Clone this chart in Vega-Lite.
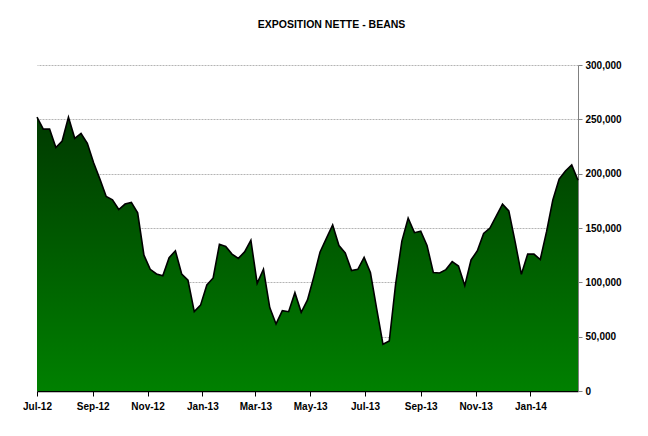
{
  "$schema": "https://vega.github.io/schema/vega-lite/v6.json",
  "width": 541,
  "height": 326,
  "autosize": {"type": "none"},
  "padding": {"left": 37, "top": 65, "right": 70, "bottom": 45},
  "background": "white",
  "title": {
    "text": "EXPOSITION NETTE - BEANS",
    "font": "Liberation Sans",
    "fontSize": 10.5,
    "fontWeight": "bold",
    "color": "black",
    "anchor": "middle",
    "dx": 24,
    "offset": 30
  },
  "config": {
    "view": {"stroke": null},
    "font": "Liberation Sans"
  },
  "data": {
    "values": [
      {"d": "2012-07-01", "v": 252000}, {"d": "2012-07-08", "v": 241000}, {"d": "2012-07-15", "v": 241000}, {"d": "2012-07-22", "v": 224000},
      {"d": "2012-07-29", "v": 230000}, {"d": "2012-08-05", "v": 252000}, {"d": "2012-08-12", "v": 232500}, {"d": "2012-08-19", "v": 237000},
      {"d": "2012-08-26", "v": 228000}, {"d": "2012-09-02", "v": 210000}, {"d": "2012-09-09", "v": 195000}, {"d": "2012-09-16", "v": 179000},
      {"d": "2012-09-23", "v": 176000}, {"d": "2012-09-30", "v": 167000}, {"d": "2012-10-07", "v": 172000}, {"d": "2012-10-14", "v": 173600},
      {"d": "2012-10-21", "v": 164000}, {"d": "2012-10-28", "v": 125000}, {"d": "2012-11-04", "v": 112000}, {"d": "2012-11-11", "v": 107700},
      {"d": "2012-11-18", "v": 106000}, {"d": "2012-11-25", "v": 122700}, {"d": "2012-12-02", "v": 129000}, {"d": "2012-12-09", "v": 107700},
      {"d": "2012-12-16", "v": 102000}, {"d": "2012-12-23", "v": 73000}, {"d": "2012-12-30", "v": 79000}, {"d": "2013-01-06", "v": 97600},
      {"d": "2013-01-13", "v": 104000}, {"d": "2013-01-20", "v": 135000}, {"d": "2013-01-27", "v": 133000}, {"d": "2013-02-03", "v": 126000},
      {"d": "2013-02-10", "v": 122000}, {"d": "2013-02-17", "v": 128000}, {"d": "2013-02-24", "v": 138700}, {"d": "2013-03-03", "v": 99000},
      {"d": "2013-03-10", "v": 112000}, {"d": "2013-03-17", "v": 76700}, {"d": "2013-03-24", "v": 61700}, {"d": "2013-03-31", "v": 74000},
      {"d": "2013-04-07", "v": 73000}, {"d": "2013-04-14", "v": 90500}, {"d": "2013-04-21", "v": 72400}, {"d": "2013-04-28", "v": 83800},
      {"d": "2013-05-05", "v": 105000}, {"d": "2013-05-12", "v": 128000}, {"d": "2013-05-19", "v": 140500}, {"d": "2013-05-26", "v": 152800},
      {"d": "2013-06-02", "v": 133800}, {"d": "2013-06-09", "v": 127000}, {"d": "2013-06-16", "v": 110800}, {"d": "2013-06-23", "v": 112000},
      {"d": "2013-06-30", "v": 123000}, {"d": "2013-07-07", "v": 109000}, {"d": "2013-07-14", "v": 75500}, {"d": "2013-07-21", "v": 43000},
      {"d": "2013-07-28", "v": 46000}, {"d": "2013-08-04", "v": 98000}, {"d": "2013-08-11", "v": 138000}, {"d": "2013-08-18", "v": 159000},
      {"d": "2013-08-25", "v": 145700}, {"d": "2013-09-01", "v": 147000}, {"d": "2013-09-08", "v": 134000}, {"d": "2013-09-15", "v": 109000},
      {"d": "2013-09-22", "v": 108600}, {"d": "2013-09-29", "v": 111700}, {"d": "2013-10-06", "v": 119000}, {"d": "2013-10-13", "v": 115000},
      {"d": "2013-10-20", "v": 97000}, {"d": "2013-10-27", "v": 120600}, {"d": "2013-11-03", "v": 129000}, {"d": "2013-11-10", "v": 145000},
      {"d": "2013-11-17", "v": 150000}, {"d": "2013-11-24", "v": 161000}, {"d": "2013-12-01", "v": 172000}, {"d": "2013-12-08", "v": 165700},
      {"d": "2013-12-15", "v": 137400}, {"d": "2013-12-22", "v": 107400}, {"d": "2013-12-29", "v": 126000}, {"d": "2014-01-05", "v": 126000},
      {"d": "2014-01-12", "v": 121000}, {"d": "2014-01-19", "v": 146600}, {"d": "2014-01-26", "v": 175800}, {"d": "2014-02-02", "v": 195000},
      {"d": "2014-02-09", "v": 202500}, {"d": "2014-02-16", "v": 208000}, {"d": "2014-02-23", "v": 194000}
    ]
  },
  "mark": {
    "type": "area",
    "interpolate": "linear",
    "opacity": 1,
    "fillOpacity": 1,
    "fill": {
      "x1": 0, "y1": 0, "x2": 0, "y2": 1,
      "gradient": "linear",
      "stops": [
        {"offset": 0, "color": "#003a00"},
        {"offset": 1, "color": "#008000"}
      ]
    },
    "line": {"color": "black", "strokeWidth": 1.6}
  },
  "encoding": {
    "x": {
      "field": "d",
      "type": "temporal",
      "title": null,
      "scale": {
        "type": "utc",
        "domain": ["2012-07-01", "2014-02-23"],
        "nice": false
      },
      "axis": {
        "orient": "bottom",
        "format": "%b-%y",
        "tickCount": {"interval": "month", "step": 2},
        "grid": false,
        "domainColor": "black",
        "domainWidth": 1.5,
        "tickColor": "black",
        "tickSize": 5,
        "labelFont": "Liberation Sans",
        "labelFontSize": 10,
        "labelFontWeight": "bold",
        "labelColor": "black",
        "labelPadding": 5,
        "labelAngle": 0,
        "labelFlush": false,
        "labelOverlap": false
      }
    },
    "y": {
      "field": "v",
      "type": "quantitative",
      "title": null,
      "scale": {"domain": [0, 300000], "nice": false},
      "axis": {
        "orient": "right",
        "values": [0, 50000, 100000, 150000, 200000, 250000, 300000],
        "format": ",d",
        "grid": true,
        "gridColor": "#b4b4b4",
        "gridDash": [2, 1],
        "gridWidth": 1,
        "domainColor": "#808080",
        "tickColor": "#808080",
        "tickSize": 4,
        "labelFont": "Liberation Sans",
        "labelFontSize": 10,
        "labelFontWeight": "bold",
        "labelColor": "black",
        "labelPadding": 3
      }
    }
  }
}
